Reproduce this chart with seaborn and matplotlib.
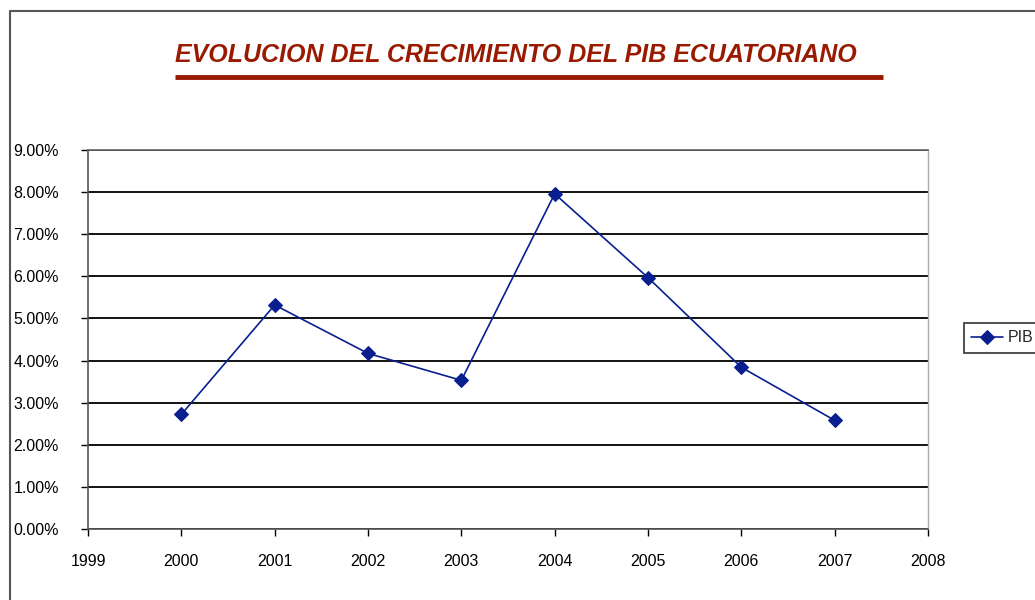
import pandas as pd
import matplotlib.pyplot as plt
import matplotlib.lines as mlines
from matplotlib.ticker import PercentFormatter
import seaborn as sns

# datos
anios = [2000, 2001, 2002, 2003, 2004, 2005, 2006, 2007]
pib = [2.72, 5.32, 4.17, 3.53, 7.96, 5.97, 3.84, 2.58]
x_ticks = list(range(1999, 2009))
y_ticks = [0, 1, 2, 3, 4, 5, 6, 7, 8, 9]

titulo = "EVOLUCION DEL CRECIMIENTO DEL PIB ECUATORIANO"

veri = pd.DataFrame({"Año": anios, "PIB": pib})

sns.set_theme(style="white")
plt.rcParams["font.family"] = ["Liberation Sans", "DejaVu Sans"]

fig = plt.figure(figsize=(10.35, 6.0), dpi=100)
ax = fig.add_axes([88 / 1035, 1 - 529 / 600, (928 - 88) / 1035, (529 - 150) / 600])

sns.lineplot(data=veri, x="Año", y="PIB", ax=ax, color="#0a1f8f", linewidth=1.2,
             marker="D", markersize=7, markeredgecolor="#0a1f8f", label="PIB")

ax.set_xlim(1999, 2008)
ax.set_ylim(0, 9)
ax.set_xticks(x_ticks)
ax.set_yticks(y_ticks)
ax.yaxis.set_major_formatter(PercentFormatter(decimals=2))
ax.set_xlabel("")
ax.set_ylabel("")
ax.tick_params(axis="both", labelsize=11.5, colors="black", direction="out",
               length=5, width=1, left=True, bottom=True)
ax.tick_params(axis="y", pad=16)
ax.tick_params(axis="x", pad=13)
ax.yaxis.grid(True, color="black", linewidth=1.3)
ax.xaxis.grid(False)
ax.set_axisbelow(True)
for lado in ["left", "bottom"]:
    ax.spines[lado].set_color("#555555")
    ax.spines[lado].set_linewidth(1.2)
ax.spines["right"].set_color("#aaaaaa")
ax.spines["right"].set_linewidth(1)
ax.spines["top"].set_color("#666666")
ax.spines["top"].set_linewidth(1.2)

leg = ax.legend(loc="center left", bbox_to_anchor=(964 / 1035, 1 - 338 / 600),
                bbox_transform=fig.transFigure, frameon=True, fancybox=False,
                edgecolor="black", fontsize=11.5, handlelength=2.0, borderpad=0.45,
                handletextpad=0.3, borderaxespad=0)
leg.get_frame().set_linewidth(1.2)

fig.text(516 / 1035, 1 - 55 / 600, titulo, ha="center", va="center",
         color="#991a00", fontsize=18, fontweight="bold", fontstyle="italic")
fig.add_artist(mlines.Line2D([175 / 1035, 883 / 1035], [1 - 77 / 600, 1 - 77 / 600],
                             color="#991a00", linewidth=3.5, solid_capstyle="butt"))

# marco del grafico
fig.add_artist(mlines.Line2D([10 / 1035, 10 / 1035, 1], [0, 1 - 11 / 600, 1 - 11 / 600],
                             color="#555555", linewidth=1.5))

plt.savefig("out.png", dpi=100)
plt.close()
